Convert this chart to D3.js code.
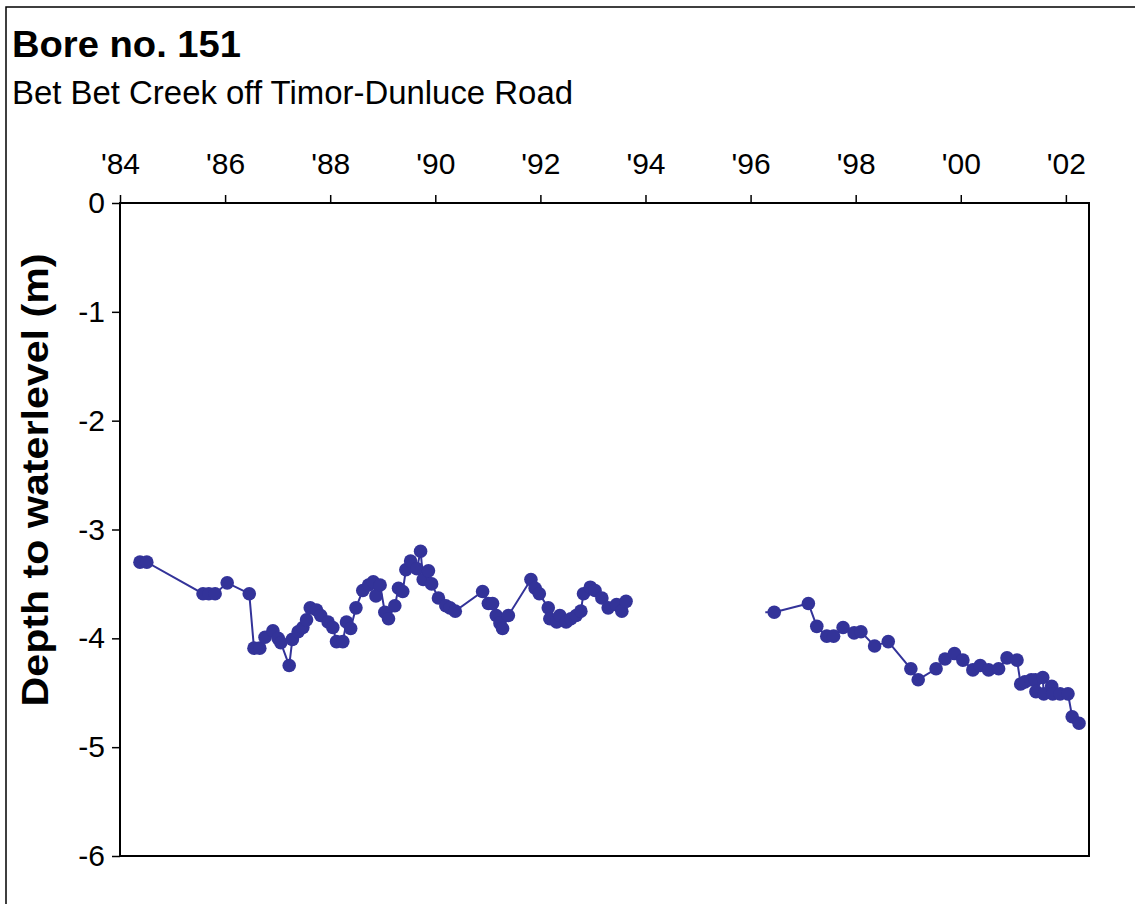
<!DOCTYPE html>
<html>
<head>
<meta charset="utf-8">
<script src="https://cdn.jsdelivr.net/npm/d3@7"></script>
<style>
body { margin: 0; background: #fff; }
svg { display: block; font-family: "Liberation Sans", Arial, sans-serif; }
</style>
</head>
<body>
<svg id="chart" width="1135" height="904"></svg>
<script>
// readings, decimal year -> depth (m); null = no readings (gap 1994-96)
var years = [
  1984.38, 1984.51, 1985.58, 1985.69, 1985.81, 1986.04, 1986.46, 1986.55, 1986.66, 1986.76,
  1986.91, 1987.01, 1987.06, 1987.22, 1987.28, 1987.39, 1987.48, 1987.55, 1987.62, 1987.74,
  1987.82, 1987.96, 1988.05, 1988.12, 1988.24, 1988.31, 1988.39, 1988.49, 1988.62, 1988.73,
  1988.82, 1988.87, 1988.95, 1989.04, 1989.11, 1989.23, 1989.30, 1989.38, 1989.44, 1989.53,
  1989.65, 1989.72, 1989.77, 1989.87, 1989.93, 1990.06, 1990.20, 1990.28, 1990.38, 1990.90,
  1991.01, 1991.09, 1991.16, 1991.23, 1991.28, 1991.39, 1991.82, 1991.90, 1991.98, 1992.15,
  1992.18, 1992.31, 1992.37, 1992.49, 1992.58, 1992.68, 1992.77, 1992.82, 1992.95, 1993.04,
  1993.17, 1993.29, 1993.45, 1993.55, 1993.63,
  1995.00,
  1996.28, 1996.45, 1997.10, 1997.26, 1997.45, 1997.58, 1997.76, 1997.97, 1998.10, 1998.36,
  1998.62, 1999.05, 1999.19, 1999.53, 1999.70, 1999.88, 2000.04, 2000.23, 2000.37, 2000.53,
  2000.72, 2000.88, 2001.07, 2001.14, 2001.22, 2001.34, 2001.42, 2001.43, 2001.56, 2001.58,
  2001.73, 2001.75, 2001.89, 2002.04, 2002.12, 2002.25
];
var depths = [
  -3.30, -3.30, -3.59, -3.59, -3.59, -3.49, -3.59, -4.09, -4.09, -3.99,
  -3.93, -4.00, -4.04, -4.25, -4.01, -3.94, -3.90, -3.83, -3.72, -3.74,
  -3.79, -3.85, -3.90, -4.03, -4.03, -3.85, -3.91, -3.72, -3.56, -3.51,
  -3.48, -3.61, -3.51, -3.76, -3.82, -3.70, -3.54, -3.57, -3.37, -3.29,
  -3.36, -3.20, -3.46, -3.38, -3.50, -3.63, -3.70, -3.72, -3.75, -3.57,
  -3.68, -3.68, -3.79, -3.86, -3.91, -3.79, -3.46, -3.54, -3.59, -3.72,
  -3.82, -3.85, -3.79, -3.85, -3.82, -3.79, -3.75, -3.59, -3.53, -3.56,
  -3.63, -3.72, -3.69, -3.75, -3.66,
  null,
  -3.76, -3.76, -3.68, -3.89, -3.98, -3.98, -3.90, -3.95, -3.94, -4.07,
  -4.03, -4.28, -4.38, -4.28, -4.19, -4.14, -4.20, -4.29, -4.25, -4.29,
  -4.28, -4.18, -4.20, -4.42, -4.40, -4.38, -4.38, -4.49, -4.36, -4.51,
  -4.44, -4.51, -4.51, -4.51, -4.72, -4.78
];
// reading that shows only as the start of the line, no marker
var noMarker = [1996.28];

var xTicks = [1984, 1986, 1988, 1990, 1992, 1994, 1996, 1998, 2000, 2002];
var yTicks = [0, -1, -2, -3, -4, -5, -6];

var title = "Bore no. 151";
var subtitle = "Bet Bet Creek off Timor-Dunluce Road";
var yTitle = "Depth to waterlevel (m)";

var plot = {left: 120, right: 1089, top: 203, bottom: 856};
var colour = "#333399";
var font = "\"Liberation Sans\", Arial, sans-serif";

var svg = d3.select("#chart");

// outer frame (runs off the right and bottom of the picture)
svg.append("rect")
    .attr("x", 6).attr("y", 7)
    .attr("width", 1200).attr("height", 1000)
    .attr("fill", "none").attr("stroke", "#000").attr("stroke-width", 1.5);

svg.append("text")
    .attr("x", 12).attr("y", 57)
    .attr("font-size", 37).attr("font-weight", "bold")
    .attr("textLength", 229).attr("lengthAdjust", "spacingAndGlyphs")
    .text(title);
svg.append("text")
    .attr("x", 12).attr("y", 104)
    .attr("font-size", 33)
    .attr("textLength", 561).attr("lengthAdjust", "spacingAndGlyphs")
    .text(subtitle);

var x = d3.scaleLinear().domain([1984, 2002.44]).range([plot.left, plot.right]);
var y = d3.scaleLinear().domain([-6, 0]).range([plot.bottom, plot.top]);

var xAxis = svg.append("g")
    .attr("transform", "translate(0," + plot.top + ")")
    .call(d3.axisTop(x)
        .tickValues(xTicks)
        .tickFormat(function(d) { return "'" + String(d).slice(2); })
        .tickSizeInner(8).tickSizeOuter(0).tickPadding(21));

var yAxis = svg.append("g")
    .attr("transform", "translate(" + plot.left + ",0)")
    .call(d3.axisLeft(y)
        .tickValues(yTicks)
        .tickFormat(function(d) { return String(d); })
        .tickSizeInner(8).tickSizeOuter(0).tickPadding(7));

[xAxis, yAxis].forEach(function(g) {
    g.select(".domain").remove();
    g.selectAll("line").attr("stroke", "#000").attr("stroke-width", 1.5);
    g.selectAll("text")
        .attr("font-size", 30)
        .attr("font-family", font)
        .attr("fill", "#000");
});

svg.append("rect")
    .attr("x", plot.left).attr("y", plot.top)
    .attr("width", plot.right - plot.left).attr("height", plot.bottom - plot.top)
    .attr("fill", "none").attr("stroke", "#000").attr("stroke-width", 2);

svg.append("text")
    .attr("transform", "translate(48,480) rotate(-90)")
    .attr("text-anchor", "middle")
    .attr("font-size", 36).attr("font-weight", "bold")
    .attr("textLength", 453).attr("lengthAdjust", "spacingAndGlyphs")
    .text(yTitle);

var data = years.map(function(d, i) { return {year: d, depth: depths[i]}; });

var line = d3.line()
    .defined(function(d) { return d.depth !== null; })
    .x(function(d) { return x(d.year); })
    .y(function(d) { return y(d.depth); });

svg.append("path")
    .datum(data)
    .attr("d", line)
    .attr("fill", "none")
    .attr("stroke", colour)
    .attr("stroke-width", 2);

svg.append("g")
    .selectAll("circle")
    .data(data.filter(function(d) { return d.depth !== null && noMarker.indexOf(d.year) < 0; }))
    .enter().append("circle")
    .attr("cx", function(d) { return x(d.year); })
    .attr("cy", function(d) { return y(d.depth); })
    .attr("r", 6.8)
    .attr("fill", colour);
</script>
</body>
</html>
